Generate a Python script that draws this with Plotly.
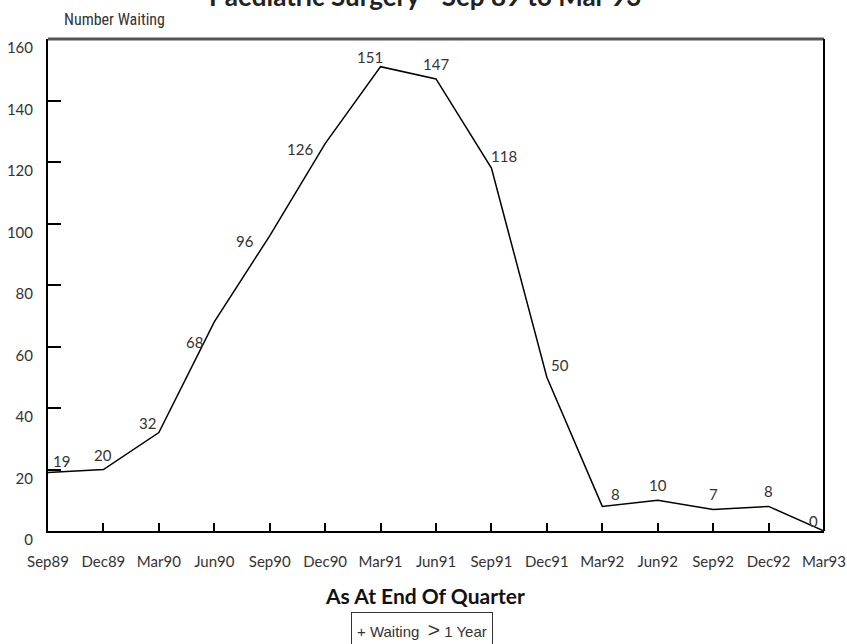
import plotly.graph_objects as go

quarters = ["Sep89", "Dec89", "Mar90", "Jun90", "Sep90", "Dec90", "Mar91", "Jun91",
            "Sep91", "Dec91", "Mar92", "Jun92", "Sep92", "Dec92", "Mar93"]
waiting = [19, 20, 32, 68, 96, 126, 151, 147, 118, 50, 8, 10, 7, 8, 0]
label_dir = ["ne", "n", "nw", "sw", "w", "w", "nw", "n", "ne", "ne",
             "ne", "n", "n", "n", "nw"]
y_ticks = [0, 20, 40, 60, 80, 100, 120, 140, 160]

# pixel offsets of a value label for each compass direction (style, not data)
DIR_SHIFT = {"n": (0, 15), "ne": (13, 12), "nw": (-11, 10),
             "w": (-25, -5), "sw": (-20, -20)}

FONT = "Lato, 'Open Sans', sans-serif"
NARROW = "'Liberation Sans Narrow', 'Roboto Condensed', sans-serif"
ARIAL = "'Liberation Sans', Arial, sans-serif"
TXT = "#333333"

xs = list(range(len(quarters)))

fig = go.Figure()
fig.add_trace(go.Scatter(
    x=xs, y=waiting,
    mode="lines",
    line=dict(color="black", width=1.5),
    name="Waiting > 1 Year",
    showlegend=False,
    cliponaxis=False,
))

for xi, v, d in zip(xs, waiting, label_dir):
    dx, dy = DIR_SHIFT[d]
    fig.add_annotation(x=xi, y=v, text=str(v), showarrow=False,
                       xanchor="center", yanchor="middle",
                       xshift=dx, yshift=dy,
                       font=dict(family=FONT, size=15, color=TXT))

fig.update_layout(
    width=847, height=644,
    paper_bgcolor="white", plot_bgcolor="white",
    margin=dict(l=48, r=23, t=39, b=113),
    font=dict(family=FONT, size=15, color=TXT),
)

fig.update_xaxes(
    range=[0, len(quarters) - 1],
    tickmode="array", tickvals=xs, ticktext=quarters,
    ticks="inside", ticklen=8, tickwidth=1.5, tickcolor="black",
    showline=True, linecolor="black", linewidth=2,
    showgrid=False, zeroline=False, automargin=False,
    ticklabelstandoff=16, ticklabeloverflow="allow",
    tickfont=dict(family=FONT, size=15, color=TXT),
)
fig.update_yaxes(
    range=[0, 160],
    tickmode="array", tickvals=y_ticks,
    ticks="inside", ticklen=13, tickwidth=1.5, tickcolor="black",
    showline=True, linecolor="black", linewidth=2,
    showgrid=False, zeroline=False, automargin=False,
    ticklabelshift=9, ticklabelstandoff=10,
    tickfont=dict(family=FONT, size=15, color=TXT),
)

# top and right frame
fig.add_shape(type="line", xref="paper", yref="paper", x0=0, x1=1, y0=1, y1=1,
              line=dict(color="#555555", width=3))
fig.add_shape(type="line", xref="paper", yref="paper", x0=1, x1=1, y0=0, y1=1,
              line=dict(color="black", width=2))

CX = 0.486  # horizontal centre of the titles / legend (paper units)

# chart title, partly cut off at the top as in the original
fig.add_annotation(text="<b>Paediatric Surgery - Sep 89 to Mar 93</b>",
                   xref="paper", yref="paper", x=CX, y=1.0,
                   xanchor="center", yanchor="middle", yshift=43,
                   showarrow=False,
                   font=dict(family=FONT, size=26, color="#222222"))

fig.add_annotation(text="Number Waiting", xref="paper", yref="paper",
                   x=0.018, y=1.0, xanchor="left", yanchor="middle", yshift=20,
                   showarrow=False,
                   font=dict(family=NARROW, size=16, color=TXT))

fig.add_annotation(text="<b>As At End Of Quarter</b>", xref="paper", yref="paper",
                   x=CX, y=1.0, xanchor="center", yanchor="middle", yshift=-556,
                   showarrow=False,
                   font=dict(family=FONT, size=21, color="#111111"))

fig.add_annotation(text="+ Waiting  <span style='font-size:21px'>></span> 1 Year",
                   xref="paper", yref="paper", x=0.482, y=1.0,
                   xanchor="center", yanchor="middle", yshift=-590,
                   showarrow=False,
                   bordercolor="#333333", borderwidth=1, borderpad=5,
                   font=dict(family=ARIAL, size=15, color=TXT))

fig.write_html(
    "out.html",
    config={"displayModeBar": False},
    post_script="document.body.style.margin='0';document.body.style.overflow='hidden';",
)
